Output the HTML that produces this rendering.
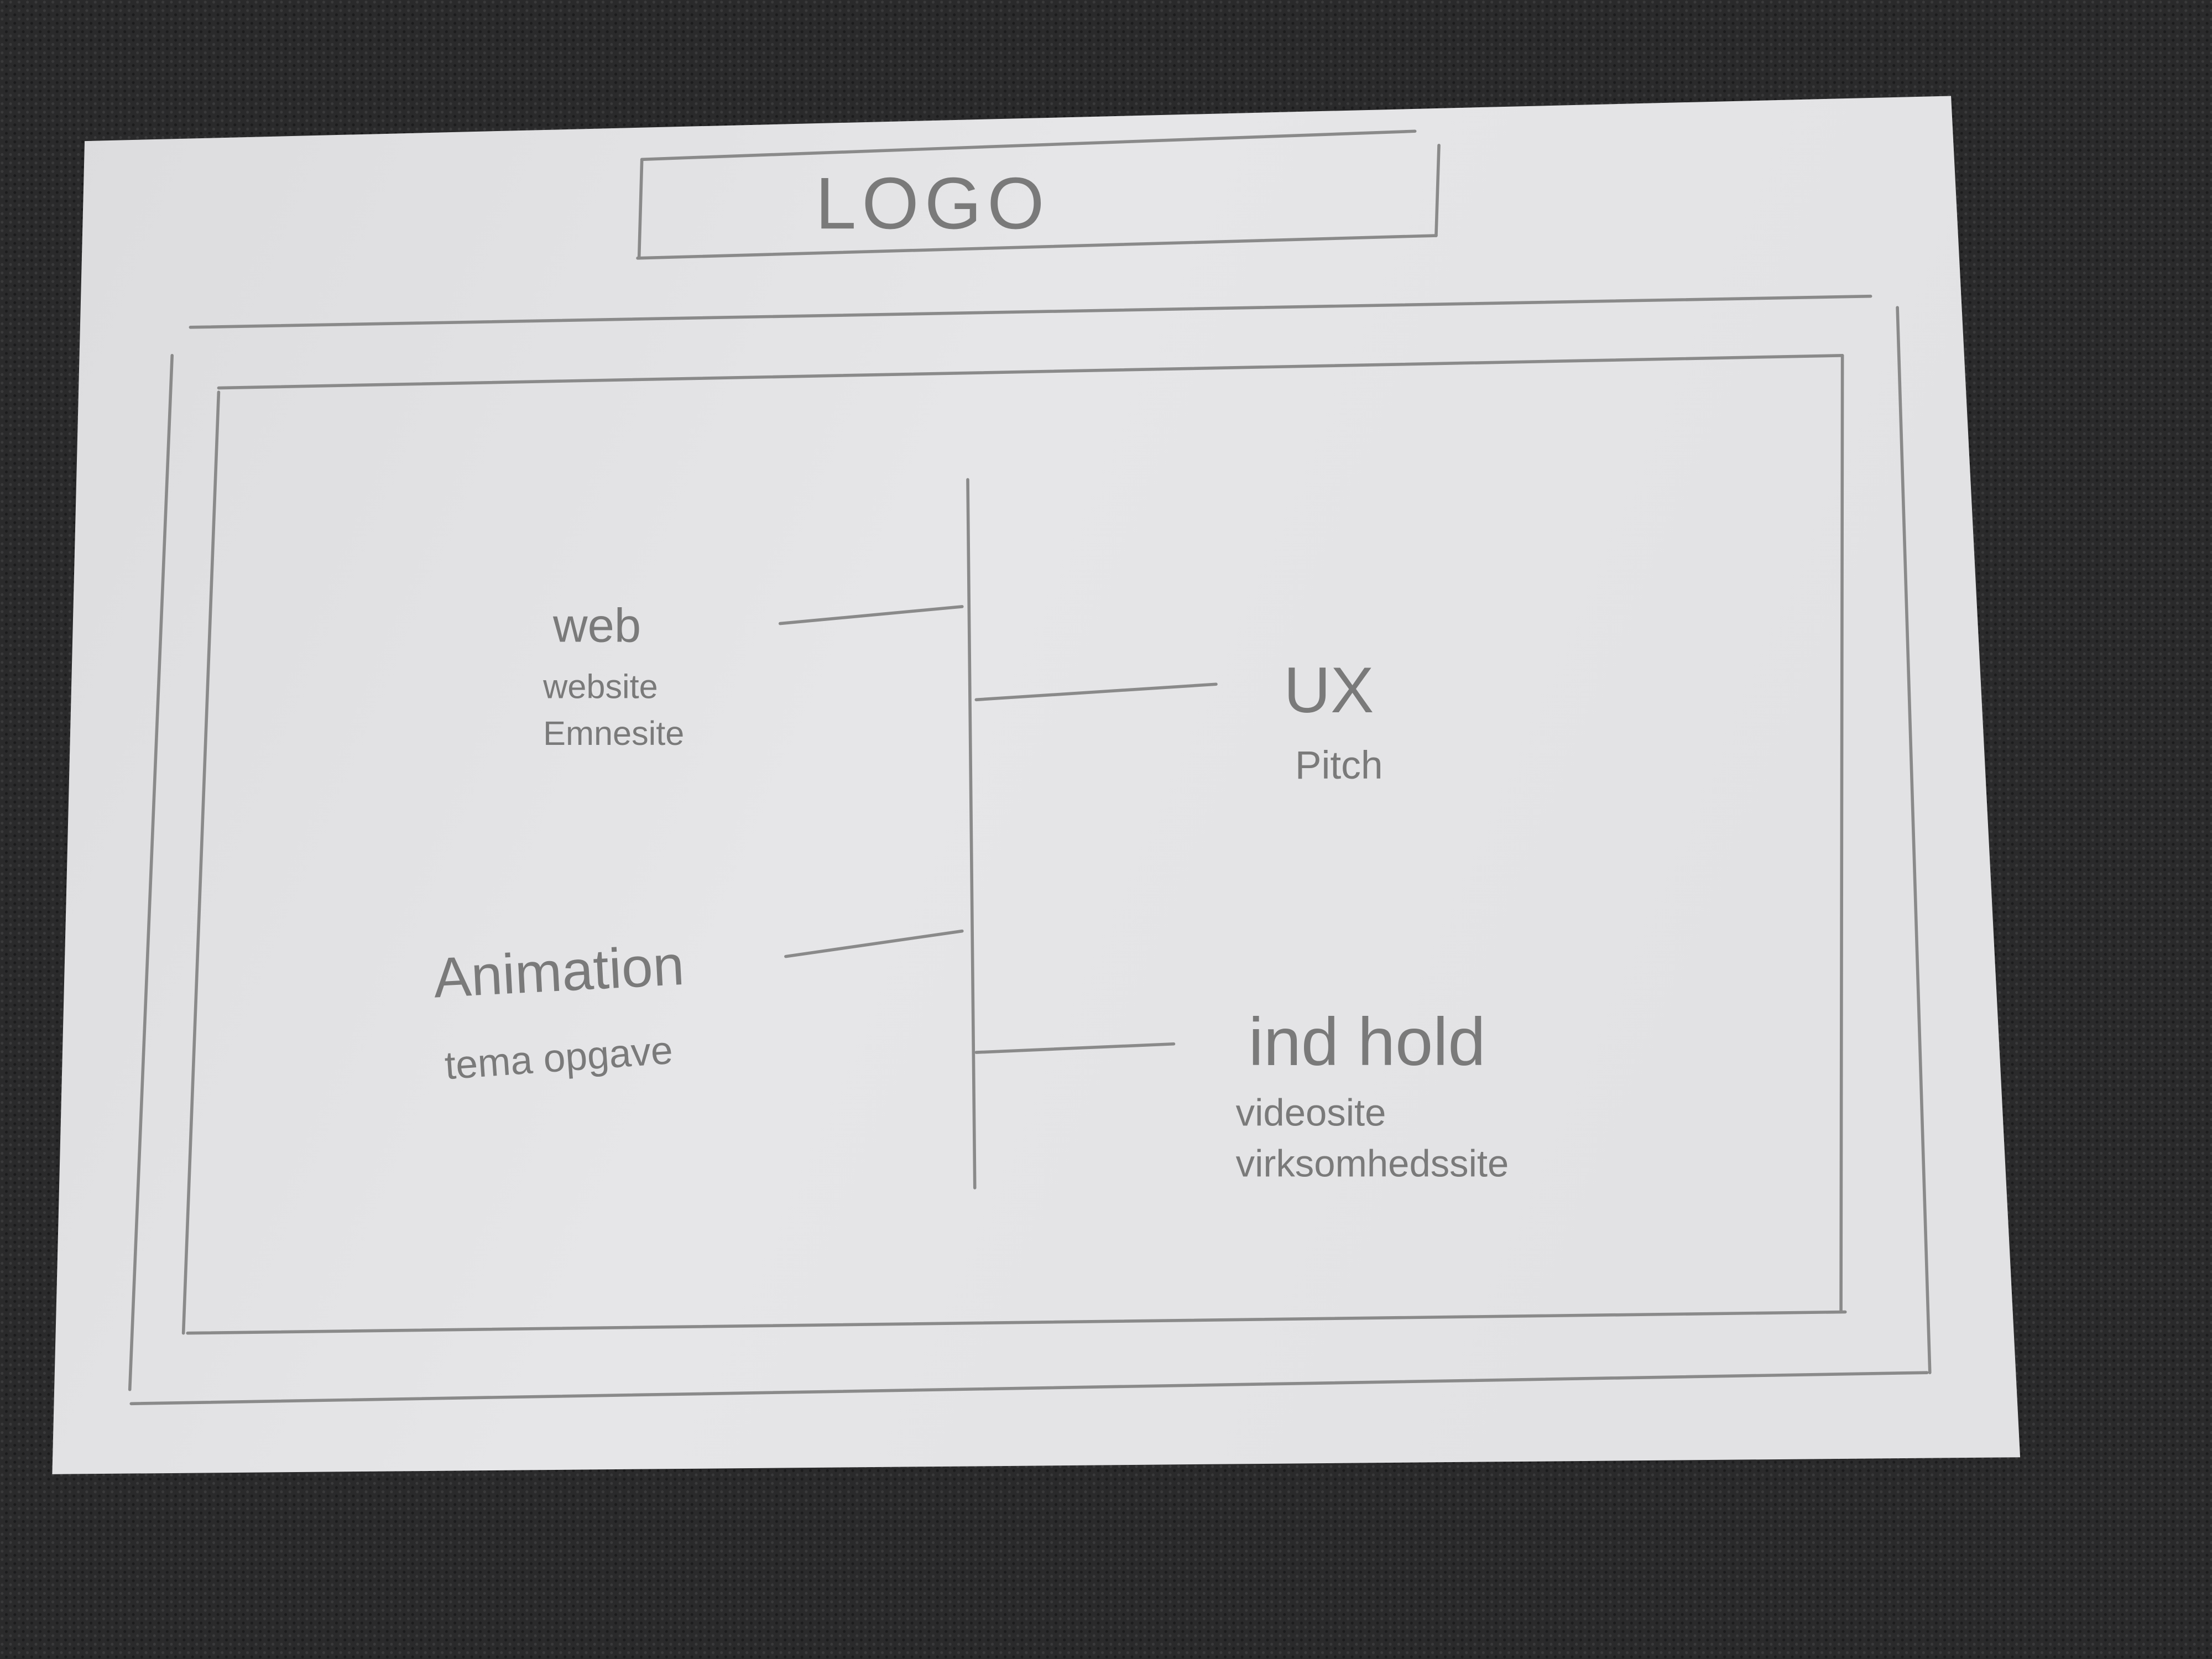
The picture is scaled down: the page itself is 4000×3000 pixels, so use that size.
<!DOCTYPE html>
<html><head><meta charset="utf-8"><style>
html,body{margin:0;padding:0;background:#262626;}
svg{display:block}
text{font-family:"Liberation Sans",sans-serif;fill:#7a7a7a}
</style></head><body>
<svg width="4000" height="3000" viewBox="0 0 1568 1176" xmlns="http://www.w3.org/2000/svg">
<defs>
<pattern id="fab" width="6" height="6" patternUnits="userSpaceOnUse">
<rect width="6" height="6" fill="#2a2a2b"/>
<circle cx="1.5" cy="1.5" r="1" fill="#3a3a3b"/>
<circle cx="4.5" cy="4.5" r="1" fill="#1c1c1d"/>
</pattern>
<linearGradient id="pap" x1="0" y1="0" x2="1" y2="0.3">
<stop offset="0" stop-color="#dcdcde"/>
<stop offset="0.5" stop-color="#e6e6e8"/>
<stop offset="1" stop-color="#e2e2e4"/>
</linearGradient>
</defs>
<rect width="1568" height="1176" fill="url(#fab)"/>
<polygon points="60,100 1383,68 1432,1033 37,1045" fill="url(#pap)"/>
<g stroke="#8a8a8a" stroke-width="2.2" fill="none" stroke-linecap="round">
<!-- logo box -->
<path d="M455,113 L1003,93"/>
<path d="M455,113 L453,183"/>
<path d="M452,183 L1018,167"/>
<path d="M1020,103 L1018,167"/>
<!-- outer frame -->
<path d="M135,232 L1326,210"/>
<path d="M122,252 L92,985"/>
<path d="M1345,218 L1368,973"/>
<path d="M93,995 L1366,973"/>
<!-- inner frame -->
<path d="M155,275 L1306,252"/>
<path d="M155,278 L130,945"/>
<path d="M1306,252 L1305,930"/>
<path d="M133,945 L1308,930"/>
<!-- timeline -->
<path d="M686,340 L691,842"/>
<path d="M553,442 L682,430"/>
<path d="M692,496 L862,485"/>
<path d="M557,678 L682,660"/>
<path d="M692,746 L832,740"/>
</g>
<text x="578" y="162" font-size="52" letter-spacing="4">LOGO</text>
<text x="392" y="455" font-size="34">web</text>
<text x="385" y="495" font-size="24">website</text>
<text x="385" y="528" font-size="24">Emnesite</text>
<text x="910" y="505" font-size="46">UX</text>
<text x="918" y="552" font-size="28">Pitch</text>
<text x="308" y="707" font-size="40" transform="rotate(-3 308 707)">Animation</text>
<text x="316" y="765" font-size="28" transform="rotate(-4 316 765)">tema opgave</text>
<text x="885" y="755" font-size="48">ind hold</text>
<text x="876" y="798" font-size="27">videosite</text>
<text x="876" y="834" font-size="27">virksomhedssite</text>
</svg>
</body></html>
